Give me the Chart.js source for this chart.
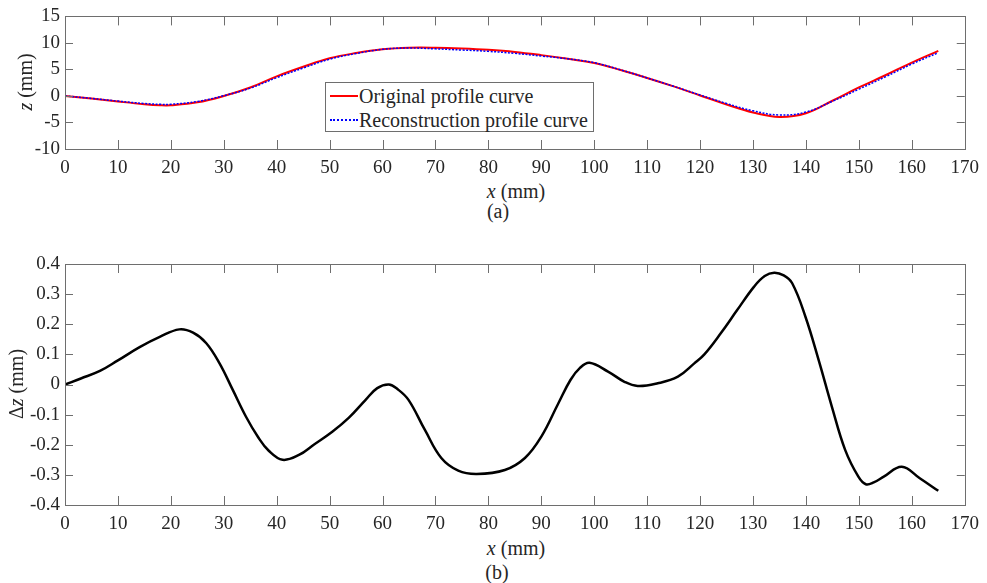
<!DOCTYPE html>
<html>
<head>
<meta charset="utf-8">
<script src="https://cdn.jsdelivr.net/npm/chart.js@4"></script>
<style>
  body { margin: 0; background: #fff; }
  #page { position: relative; width: 987px; height: 583px; font-family: "Liberation Serif", "DejaVu Serif", serif; color: #262626; }
  canvas { position: absolute; left: 0; }
  .lbl { position: absolute; font-size: 20px; white-space: nowrap; line-height: 1; }
  .rot { transform: translate(-50%, -50%) rotate(-90deg); }
  .ctr { transform: translate(-50%, -50%); }
  #legend { position: absolute; left: 325px; top: 82px; width: 267px; height: 48px; border: 1px solid #6e6e6e; background: #fff; font-size: 20px; }
  .row { position: absolute; left: 4px; height: 20px; display: flex; align-items: center; }
  .smp { width: 28px; margin-right: 1px; }
</style>
</head>
<body>
<div id="page">
  <canvas id="profile" width="987" height="175" style="top:0"></canvas>
  <canvas id="error" width="987" height="290" style="top:240px"></canvas>

  <div class="lbl rot" style="left:25px; top:82px"><i>z</i> (mm)</div>
  <div class="lbl ctr" style="left:516px; top:191px"><i>x</i> (mm)</div>
  <div class="lbl ctr" style="left:498px; top:211px">(a)</div>

  <div class="lbl rot" style="left:16px; top:384px">&Delta;<i>z</i> (mm)</div>
  <div class="lbl ctr" style="left:516px; top:548px"><i>x</i> (mm)</div>
  <div class="lbl ctr" style="left:497px; top:572px">(b)</div>

  <div id="legend">
    <div class="row" style="top:3px"><div class="smp" style="border-top:2px solid #ff0000"></div>Original profile curve</div>
    <div class="row" style="top:27px"><div class="smp" style="border-top:2px dotted #0000ff"></div>Reconstruction profile curve</div>
  </div>
</div>
<script>
// Profile data (a)
const profileX = [0, 5, 10, 15, 18, 20, 25, 30, 35, 40, 45, 50, 55, 60, 65, 70, 75, 80, 85, 90,
                  95, 100, 105, 110, 115, 120, 125, 130, 135, 140, 145, 150, 155, 160, 165];
const originalZ = [0, -0.5, -1.05, -1.55, -1.75, -1.75, -1.2, 0, 1.6, 3.7, 5.5, 7.1, 8.1, 8.8, 9.1, 9.1, 8.95, 8.7, 8.3, 7.7,
                   7.0, 6.2, 4.9, 3.4, 1.8, 0.1, -1.6, -3.1, -3.95, -3.25, -0.9, 1.6, 3.9, 6.3, 8.5];
const reconZ = [0, -0.46, -0.97, -1.42, -1.58, -1.57, -1.05, 0.05, 1.47, 3.45, 5.27, 6.93, 8.0, 8.79, 9.04, 8.88, 8.66, 8.41, 8.03, 7.53,
                7.0, 6.27, 4.91, 3.4, 1.82, 0.18, -1.42, -2.8, -3.59, -3.04, -1.0, 1.28, 3.6, 6.02, 8.15];

// Deviation data (b)
const errorX = [0, 3, 6.6, 10, 14.1, 17.9, 21.6, 24.2, 26.7, 29.2, 31.7, 34.2, 36.5, 38.5, 41.1, 44.2, 47, 50.5, 53.6, 56.8,
                59, 61.2, 62.8, 64.9, 68, 71.1, 74.3, 77.8, 83.1, 86.9, 90, 93.2, 95.5, 97.3, 99.1, 102.6, 105.7, 108.2, 112,
                115.8, 118.9, 120.8, 123.9, 127, 130.2, 132.2, 134, 135.8, 137.4, 139.9, 142.4, 144.9, 147.4, 149.9,
                151.3, 152.8, 154.7, 158.1, 161.5, 165];
const errorDz = [0, 0.02, 0.045, 0.08, 0.124, 0.158, 0.183, 0.172, 0.137, 0.07, -0.018, -0.107, -0.175, -0.22, -0.25, -0.234, -0.2, -0.157, -0.111, -0.051,
                 -0.012, 0, -0.015, -0.051, -0.151, -0.244, -0.286, -0.297, -0.284, -0.244, -0.173, -0.063, 0.015, 0.055, 0.072, 0.043, 0.009, -0.005, 0.004,
                 0.026, 0.07, 0.1, 0.17, 0.247, 0.325, 0.36, 0.371, 0.362, 0.336, 0.225, 0.081, -0.074, -0.217, -0.306,
                 -0.331, -0.325, -0.306, -0.273, -0.311, -0.353];

// Tick labels
const xTicks = [0, 10, 20, 30, 40, 50, 60, 70, 80, 90, 100, 110, 120, 130, 140, 150, 160, 170];
const zTicks = [-10, -5, 0, 5, 10, 15];
const dzTicks = [-0.4, -0.3, -0.2, -0.1, 0, 0.1, 0.2, 0.3, 0.4];

const axisColor = '#6e6e6e';
const textColor = '#262626';
const tickFont = { family: "'Liberation Serif', 'DejaVu Serif', serif", size: 19 };

// box round the plot with inward ticks on all four sides
const axesBox = {
    id: 'axesBox',
    afterDraw(chart) {
        const { ctx, chartArea: a, scales: { x, y } } = chart;
        ctx.save();
        ctx.strokeStyle = axisColor;
        ctx.lineWidth = 1;
        ctx.beginPath();
        x.ticks.forEach(t => {
            const px = Math.round(x.getPixelForValue(t.value)) + 0.5;
            ctx.moveTo(px, a.bottom); ctx.lineTo(px, a.bottom - 9);
            ctx.moveTo(px, a.top); ctx.lineTo(px, a.top + 9);
        });
        y.ticks.forEach(t => {
            const py = Math.round(y.getPixelForValue(t.value)) + 0.5;
            ctx.moveTo(a.left, py); ctx.lineTo(a.left + 8, py);
            ctx.moveTo(a.right, py); ctx.lineTo(a.right - 8, py);
        });
        ctx.stroke();
        ctx.strokeRect(Math.round(a.left) + 0.5, Math.round(a.top) + 0.5, Math.round(a.width), Math.round(a.height));
        ctx.restore();
    }
};

function toPoints(xs, ys) {
    return xs.map((v, i) => ({ x: v, y: ys[i] }));
}

function makeScales(yTicks, yFmt, xHeight) {
    return {
        x: {
            type: 'linear', min: 0, max: 170,
            grid: { display: false, drawTicks: false }, border: { display: false },
            afterBuildTicks: s => { s.ticks = xTicks.map(v => ({ value: v })); },
            afterFit: s => { s.height = xHeight; },
            ticks: { font: tickFont, color: textColor, padding: 8, maxRotation: 0, autoSkip: false,
                     callback: v => String(v) }
        },
        y: {
            type: 'linear', min: yTicks[0], max: yTicks[yTicks.length - 1],
            grid: { display: false, drawTicks: false }, border: { display: false },
            afterBuildTicks: s => { s.ticks = yTicks.map(v => ({ value: v })); },
            afterFit: s => { s.width = 65; },
            ticks: { font: tickFont, color: textColor, padding: 5, autoSkip: false, callback: yFmt }
        }
    };
}

const common = {
    responsive: false,
    animation: false,
    events: [],
    plugins: { legend: { display: false }, tooltip: { enabled: false } },
    elements: { point: { radius: 0 } }
};

new Chart(document.getElementById('profile'), {
    type: 'line',
    data: {
        datasets: [
            { label: 'Reconstruction profile curve', data: toPoints(profileX, reconZ), borderColor: '#0000ff',
              borderWidth: 1.5, borderDash: [2, 1.5], tension: 0.4, order: 0 },
            { label: 'Original profile curve', data: toPoints(profileX, originalZ), borderColor: '#ff0000',
              borderWidth: 2, tension: 0.4, order: 1 }
        ]
    },
    options: {
        ...common,
        layout: { padding: { top: 15, right: 19, left: 0, bottom: 0 } },
        scales: makeScales(zTicks, v => String(v), 26)
    },
    plugins: [axesBox]
});

new Chart(document.getElementById('error'), {
    type: 'line',
    data: {
        datasets: [
            { label: 'dz', data: toPoints(errorX, errorDz), borderColor: '#000000', borderWidth: 2.5, tension: 0.4 }
        ]
    },
    options: {
        ...common,
        layout: { padding: { top: 24, right: 19, left: 0, bottom: 0 } },
        scales: makeScales(dzTicks, v => (Math.abs(v) < 1e-9 ? '0' : v.toFixed(1)), 25)
    },
    plugins: [axesBox]
});
</script>
</body>
</html>
